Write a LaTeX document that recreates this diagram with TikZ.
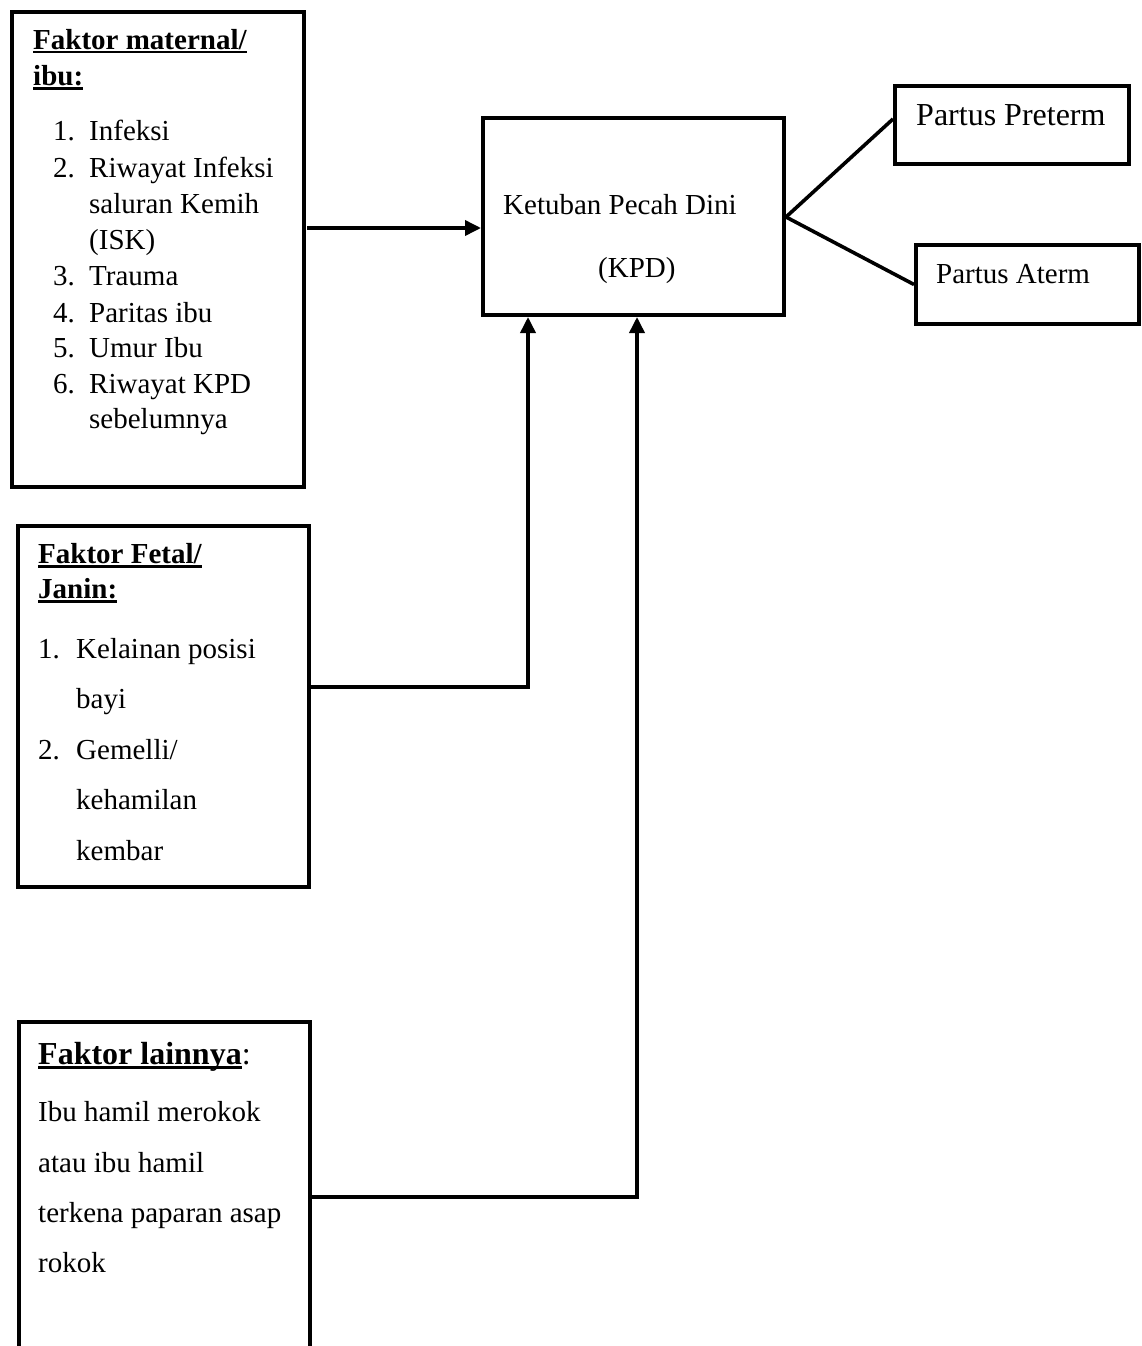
\documentclass[tikz,border=0pt]{standalone}
\usepackage{fontspec}
\setmainfont{Liberation Serif}
\usetikzlibrary{arrows.meta}
\newcommand{\ulbox}[1]{\setbox0\hbox{#1}\rlap{\rule[-4.5pt]{\wd0}{2.8pt}}\box0}
\begin{document}
\begin{tikzpicture}[x=1pt,y=-1pt,
  box/.style={draw,line width=4pt,anchor=north west,inner sep=0pt},
  txt/.style={anchor=base west,inner sep=0pt,font=\fontsize{29}{35}\selectfont},
  bigtxt/.style={anchor=base west,inner sep=0pt,font=\fontsize{32}{38}\selectfont},
  conn/.style={line width=3.6pt},
  arr/.style={line width=3.6pt,-{Triangle[length=16pt,width=15pt]}}]
\useasboundingbox[fill=white] (0,0) rectangle (1141,1346);

% boxes
\node[box,minimum width=292pt,minimum height=475pt] (mat) at (10,10) {};
\node[box,minimum width=301pt,minimum height=197pt] (kpd) at (481,116) {};
\node[box,minimum width=234pt,minimum height=78pt] (pre) at (893,84) {};
\node[box,minimum width=223pt,minimum height=79pt] (ate) at (914,243) {};
\node[box,minimum width=291pt,minimum height=361pt] (fet) at (16,524) {};
\node[box,minimum width=291pt,minimum height=420pt] (lain) at (17,1020) {};

% box 1 text
\node[txt] (m0) at (33,49) {\bfseries\ulbox{Faktor maternal/}};
\node[txt] (m1) at (33,85) {\bfseries\ulbox{ibu:}};
\node[txt] (n1) at (53,140) {1.};
\node[txt] (t1) at (89,140) {Infeksi};
\node[txt] (n2) at (53,177) {2.};
\node[txt] (t2) at (89,177) {Riwayat Infeksi};
\node[txt] (t2b) at (89,213) {saluran Kemih};
\node[txt] (t2c) at (89,249) {(ISK)};
\node[txt] (n3) at (53,285) {3.};
\node[txt] (t3) at (89,285) {Trauma};
\node[txt] (n4) at (53,322) {4.};
\node[txt] (t4) at (89,322) {Paritas ibu};
\node[txt] (n5) at (53,357) {5.};
\node[txt] (t5) at (89,357) {Umur Ibu};
\node[txt] (n6) at (53,393) {6.};
\node[txt] (t6) at (89,393) {Riwayat KPD};
\node[txt] (t6b) at (89,428) {sebelumnya};

% KPD text
\node[txt] (k1) at (503,214) {Ketuban Pecah Dini};
\node[txt] (k2) at (598,277) {(KPD)};

% outcomes
\node[bigtxt] (p1) at (916,125) {Partus Preterm};
\node[txt] (p2) at (936,283) {Partus Aterm};

% box 2 text
\node[txt] (f0) at (38,563) {\bfseries\ulbox{Faktor Fetal/}};
\node[txt] (f1) at (38,598) {\bfseries\ulbox{Janin:}};
\node[txt] (fn1) at (38,658) {1.};
\node[txt] (ft1) at (76,658) {Kelainan posisi};
\node[txt] (ft1b) at (76,708) {bayi};
\node[txt] (fn2) at (38,759) {2.};
\node[txt] (ft2) at (76,759) {Gemelli/};
\node[txt] (ft2b) at (76,809) {kehamilan};
\node[txt] (ft2c) at (76,860) {kembar};

% box 3 text
\node[bigtxt] (l0) at (38,1064) {\bfseries\ulbox{Faktor lainnya}\mdseries:};
\node[txt] (l1) at (38,1121) {Ibu hamil merokok};
\node[txt] (l2) at (38,1172) {atau ibu hamil};
\node[txt] (l3) at (38,1222) {terkena paparan asap};
\node[txt] (l4) at (38,1272) {rokok};

% connectors
\coordinate (a1) at (307,228);
\draw[arr] (a1) -- (kpd.west |- a1);
\coordinate (c2) at (528,687);
\draw[arr] (fet.east |- c2) -- (c2) -- (c2 |- kpd.south);
\coordinate (c3) at (637,1197);
\draw[arr] (lain.east |- c3) -- (c3) -- (c3 |- kpd.south);
\draw[conn] ([yshift=-0.5pt]kpd.east) -- ([yshift=6pt]pre.west);
\draw[conn] ([yshift=-0.5pt]kpd.east) -- (ate.west);
\end{tikzpicture}
\end{document}
